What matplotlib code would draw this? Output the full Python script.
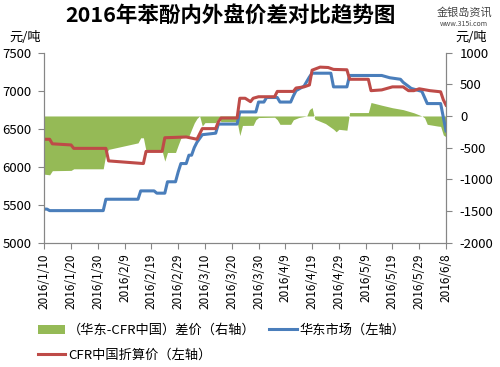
import pandas as pd
import matplotlib.pyplot as plt
import matplotlib.dates as mdates

plt.rcParams['font.family'] = ['Noto Sans CJK SC', 'DejaVu Sans']
plt.rcParams['axes.unicode_minus'] = False

# 华东市场（左轴）
hd_dates = ['01-10', '01-11', '01-12', '02-01', '02-02', '02-14', '02-15', '02-20',
            '02-21', '02-24', '02-25', '02-28', '02-29', '03-01', '03-03', '03-04',
            '03-05', '03-06', '03-07', '03-09', '03-14', '03-15', '03-22', '03-23',
            '03-29', '03-30', '04-01', '04-02', '04-06', '04-07', '04-11', '04-12',
            '04-13', '04-16', '04-18', '04-19', '04-26', '04-27', '05-02', '05-03',
            '05-15', '05-18', '05-22', '05-23', '05-26', '05-30', '06-01', '06-06',
            '06-08']
hd_price = [5440, 5440, 5420, 5420, 5570, 5570, 5680, 5680,
            5650, 5650, 5800, 5800, 5930, 6040, 6040, 6150,
            6150, 6250, 6320, 6420, 6440, 6560, 6560, 6720,
            6720, 6850, 6850, 6910, 6910, 6850, 6850, 6930,
            7000, 7060, 7180, 7230, 7230, 7050, 7050, 7200,
            7200, 7170, 7150, 7110, 7030, 6990, 6830, 6830,
            6470]

# CFR中国折算价（左轴）
cfr_dates = ['01-10', '01-12', '01-13', '01-20', '01-21', '02-02', '02-03', '02-16',
             '02-17', '02-23', '02-24', '03-03', '03-07', '03-09', '03-14', '03-15',
             '03-16', '03-22', '03-23', '03-25', '03-27', '03-28', '03-30', '04-05',
             '04-06', '04-12', '04-13', '04-16', '04-18', '04-19', '04-22', '04-25',
             '04-27', '05-02', '05-03', '05-10', '05-11', '05-15', '05-19', '05-23',
             '05-25', '05-27', '05-29', '06-02', '06-06', '06-07', '06-08']
cfr_price = [6360, 6360, 6300, 6285, 6240, 6240, 6075, 6040,
             6200, 6200, 6380, 6390, 6360, 6500, 6500, 6590,
             6640, 6640, 6900, 6900, 6855, 6900, 6920, 6920,
             6990, 6990, 7035, 7050, 7075, 7270, 7310, 7305,
             7280, 7275, 7150, 7150, 7000, 7010, 7050, 7050,
             7000, 7000, 7025, 7000, 6985, 6880, 6810]

# （华东-CFR中国）差价（右轴）
spread_dates = ['01-10', '01-12', '01-13', '01-20', '01-21', '02-01', '02-02', '02-03',
                '02-14', '02-15', '02-16', '02-17', '02-23', '02-24', '02-25', '02-28',
                '02-29', '03-01', '03-03', '03-04', '03-05', '03-06', '03-07', '03-08',
                '03-09', '03-10', '03-14', '03-15', '03-16', '03-22', '03-23', '03-24',
                '03-28', '03-29', '03-30', '04-05', '04-06', '04-07', '04-11', '04-12',
                '04-14', '04-17', '04-18', '04-19', '04-20', '04-24', '04-27', '04-28',
                '04-29', '05-02', '05-03', '05-10', '05-11', '05-15', '05-19', '05-23',
                '05-27', '05-30', '05-31', '06-01', '06-05', '06-06', '06-07', '06-08']
spread = [-920, -930, -865, -860, -835, -835, -600, -528,
          -425, -345, -345, -555, -555, -714, -577, -577,
          -460, -350, -320, -317, -211, -110, -40, 0,
          -159, -105, -105, -37, -90, -90, -310, -150,
          -148, -60, -25, -20, -60, -132, -132, -60,
          -25, 0, 100, 133, -50, -120, -210, -250,
          -211, -225, 54, 54, 213, 170, 130, 100,
          50, 0, -30, -132, -160, -165, -300, -330]

x_ticks = pd.date_range('2016-01-10', '2016-06-08', freq='10D')


def to_dates(days):
    return pd.to_datetime(['2016-' + d for d in days])


fig = plt.figure(figsize=(5, 3.67), dpi=100)
ax = fig.add_axes([0.0886, 0.3392, 0.8034, 0.5172])
ax2 = ax.twinx()
ax.set_zorder(ax2.get_zorder() + 1)
ax.patch.set_visible(False)

area = ax2.fill_between(to_dates(spread_dates), spread, 0, color='#95BA56',
                        linewidth=0, label='（华东-CFR中国）差价（右轴）')
l_hd, = ax.plot(to_dates(hd_dates), hd_price, color='#4A7EBB', lw=2.2,
                label='华东市场（左轴）')
l_cfr, = ax.plot(to_dates(cfr_dates), cfr_price, color='#BE4B48', lw=2.2,
                 label='CFR中国折算价（左轴）')

ax.set_xlim(x_ticks[0], x_ticks[-1])
ax.set_ylim(5000, 7500)
ax.set_yticks(range(5000, 7501, 500))
ax2.set_ylim(-2000, 1000)
ax2.set_yticks(range(-2000, 1001, 500))
ax.set_xticks(x_ticks)
ax.set_xticklabels([f'{d.year}/{d.month}/{d.day}' for d in x_ticks],
                   rotation=90, fontsize=8.5)

for a in (ax, ax2):
    for s in a.spines.values():
        s.set_color('#868686')
        s.set_linewidth(0.8)
    a.spines['top'].set_visible(False)
    a.tick_params(colors='#868686', labelcolor='black', length=4, width=0.8)
ax.tick_params(axis='y', labelsize=9.5, pad=5)
ax.tick_params(axis='x', pad=4)
ax2.tick_params(axis='y', labelsize=9.5, pad=6)

fig.text(0.46, 0.958, '2016年苯酚内外盘价差对比趋势图', ha='center', va='center',
         fontsize=15.5, fontweight='bold')
fig.text(0.05, 0.898, '元/吨', ha='center', va='center', fontsize=9.5)
fig.text(0.943, 0.898, '元/吨', ha='center', va='center', fontsize=9.5)
fig.text(0.928, 0.967, '金银岛资讯', ha='center', va='center', fontsize=8,
         color='#444444')
fig.text(0.928, 0.935, 'www.315i.com', ha='center', va='center', fontsize=5,
         color='#444444')

fig.legend(handles=[area, l_cfr, l_hd], loc='upper left',
           bbox_to_anchor=(0.075, 0.117), ncol=2, frameon=False, fontsize=9.5,
           handlelength=2.1, handletextpad=0.2, columnspacing=1.0,
           labelspacing=0.9, borderpad=0, borderaxespad=0)

fig.savefig('out.png', dpi=100)
